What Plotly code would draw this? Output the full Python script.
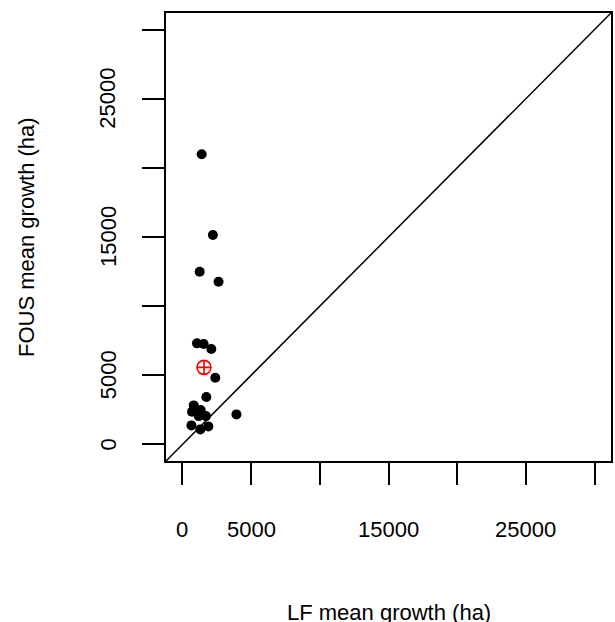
import plotly.graph_objects as go

# LF mean growth (ha) vs FOUS mean growth (ha)
lf_growth = [1397, 2214, 1252, 2627, 1056, 1541, 2098, 2388, 1737, 818,
             695, 1324, 1708, 3929, 651, 1302, 1881, 1179]
fous_growth = [20985, 15145, 12490, 11766, 7308, 7258, 6896, 4819, 3423, 2822,
               2359, 2482, 2048, 2171, 1375, 1085, 1302, 2048]
mean_lf = [1563]
mean_fous = [5572]

tick_vals = [0, 5000, 10000, 15000, 20000, 25000, 30000]
label_vals = [0, 5000, 15000, 25000]
label_text = ["0", "5000", "15000", "25000"]
axis_range = [-1200, 31200]

FONT = "Liberation Sans, Arial, Helvetica, sans-serif"

fig = go.Figure()
fig.add_trace(go.Scatter(x=lf_growth, y=fous_growth, mode="markers",
                         marker=dict(color="black", size=10, line=dict(width=0)),
                         showlegend=False, cliponaxis=False))
fig.add_trace(go.Scatter(x=mean_lf, y=mean_fous, mode="markers",
                         marker=dict(symbol="circle-cross-open", color="red", size=14,
                                     line=dict(width=1.6, color="red")),
                         showlegend=False))

fig.add_shape(type="line", xref="x", yref="y",
              x0=axis_range[0], y0=axis_range[0], x1=axis_range[1], y1=axis_range[1],
              line=dict(color="black", width=1.5))

axis_common = dict(range=axis_range, tickvals=tick_vals, ticktext=[""] * len(tick_vals),
                   ticks="outside", ticklen=22, tickwidth=1.5, tickcolor="black",
                   showline=True, linecolor="black", linewidth=1.5, mirror=True,
                   showgrid=False, zeroline=False)
fig.update_xaxes(**axis_common)
fig.update_yaxes(**axis_common)

for v, t in zip(label_vals, label_text):
    fig.add_annotation(x=v, y=0, xref="x", yref="paper", text=t, showarrow=False,
                       xanchor="center", yanchor="middle", yshift=-68,
                       font=dict(size=22, color="black", family=FONT))
    fig.add_annotation(x=0, y=v, xref="paper", yref="y", text=t, showarrow=False,
                       xanchor="center", yanchor="middle", xshift=-58, textangle=-90,
                       font=dict(size=22, color="black", family=FONT))

fig.add_annotation(x=0.5, y=0, xref="paper", yref="paper", text="LF mean growth (ha)",
                   showarrow=False, xanchor="center", yanchor="middle", yshift=-151,
                   font=dict(size=22, color="black", family=FONT))
fig.add_annotation(x=0, y=0.5, xref="paper", yref="paper", text="FOUS mean growth (ha)",
                   showarrow=False, xanchor="center", yanchor="middle", xshift=-140,
                   textangle=-90, font=dict(size=22, color="black", family=FONT))

fig.update_layout(width=615, height=622, margin=dict(l=166, r=2, t=13, b=161),
                  plot_bgcolor="white", paper_bgcolor="white",
                  font=dict(family=FONT, color="black"))

fig.write_html("out.html")
